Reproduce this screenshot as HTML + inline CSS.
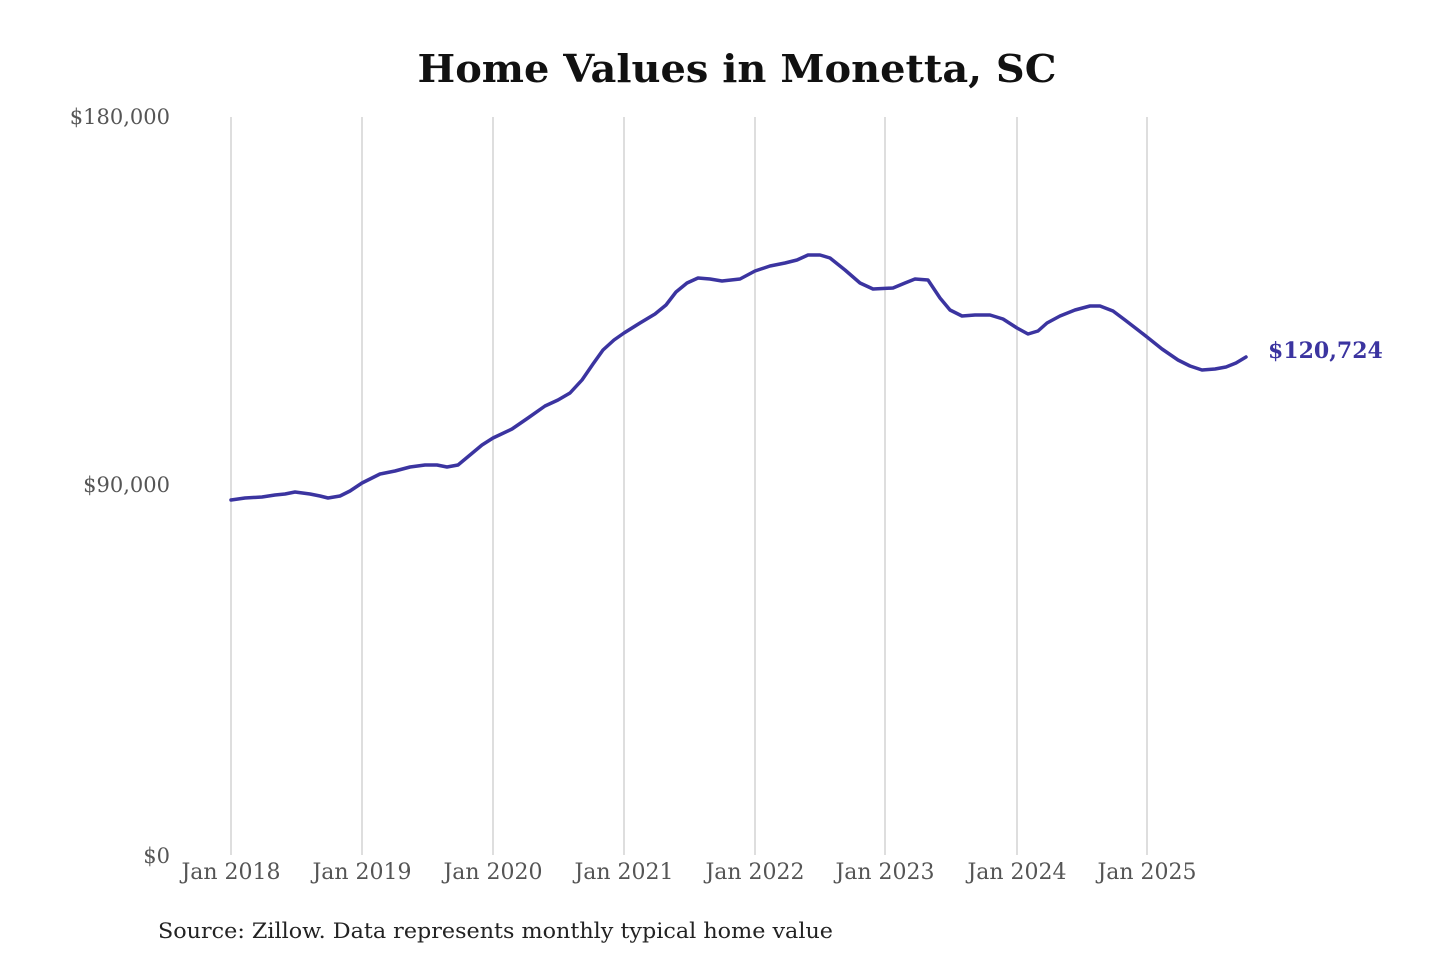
<!DOCTYPE html>
<html><head><meta charset="utf-8"><style>
html,body{margin:0;padding:0;background:#fff;}
svg{display:block;}
</style></head><body>
<svg width="1440" height="960" viewBox="0 0 1440 960" xmlns="http://www.w3.org/2000/svg" font-family="'DejaVu Serif','Liberation Serif',serif">
<text x="737" y="82" text-anchor="middle" font-size="38" font-weight="bold" fill="#111" textLength="639" lengthAdjust="spacingAndGlyphs">Home Values in Monetta, SC</text>
<g stroke="#c8c8c8" stroke-width="1.2">
<line x1="231" y1="117" x2="231" y2="855"/>
<line x1="362" y1="117" x2="362" y2="855"/>
<line x1="493" y1="117" x2="493" y2="855"/>
<line x1="624" y1="117" x2="624" y2="855"/>
<line x1="755" y1="117" x2="755" y2="855"/>
<line x1="885" y1="117" x2="885" y2="855"/>
<line x1="1017" y1="117" x2="1017" y2="855"/>
<line x1="1147" y1="117" x2="1147" y2="855"/>
</g>
<g font-size="21" fill="#555">
<text x="170" y="124" text-anchor="end">$180,000</text>
<text x="170" y="492" text-anchor="end">$90,000</text>
<text x="170" y="863" text-anchor="end">$0</text>
<g text-anchor="middle" font-size="22">
<text x="231" y="879">Jan 2018</text>
<text x="362" y="879">Jan 2019</text>
<text x="493" y="879">Jan 2020</text>
<text x="624" y="879">Jan 2021</text>
<text x="755" y="879">Jan 2022</text>
<text x="885" y="879">Jan 2023</text>
<text x="1017" y="879">Jan 2024</text>
<text x="1147" y="879">Jan 2025</text>
</g>
</g>
<polyline fill="none" stroke="#3b34a0" stroke-width="3.5" stroke-linejoin="round" stroke-linecap="round" points="231,500 245,498 262,497 275,495 285,494 295,492 310,494 320,496 328,498 340,496 350,491 362,483 380,474 395,471 410,467 425,465 437,465 447,467 458,465 470,455 482,445 493,438 512,429 528,418 545,406 558,400 570,393 582,380 593,364 603,350 614,340 624,333 640,323 655,314 666,305 676,292 687,283 698,278 710,279 722,281 740,279 755,271 770,266 785,263 797,260 808,255 820,255 830,258 845,270 860,283 873,289 893,288 905,283 915,279 928,280 940,298 950,310 962,316 975,315 990,315 1003,319 1017,328 1028,334 1038,331 1047,323 1060,316 1075,310 1090,306 1100,306 1113,311 1125,320 1138,330 1147,337 1162,349 1178,360 1190,366 1202,370 1215,369 1226,367 1236,363 1246,357"/>
<text x="1268" y="358" font-size="22" font-weight="bold" fill="#3b34a0">$120,724</text>
<text x="158" y="938" font-size="21" fill="#222" textLength="675" lengthAdjust="spacingAndGlyphs">Source: Zillow. Data represents monthly typical home value</text>
</svg>
</body></html>
